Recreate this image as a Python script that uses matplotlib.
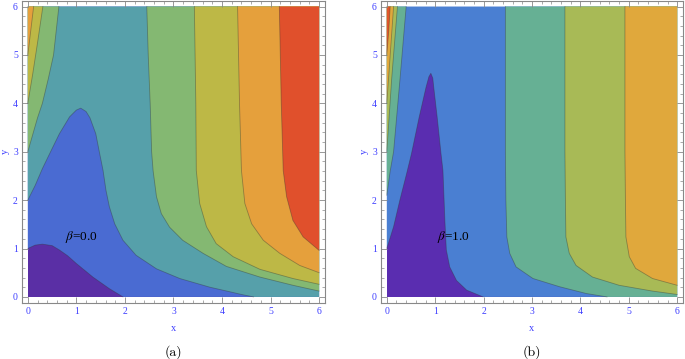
import numpy as np
import matplotlib.pyplot as plt
from matplotlib.ticker import MultipleLocator

# ================= contour boundaries =================
# panel (a): beta = 0.0   (each curve: x list, y list, high side on the left)
A1_X = [0.0, 0.15, 0.3, 0.5, 0.65, 0.82, 1.0, 1.34, 1.68, 1.96]
A1_Y = [1.0, 1.07, 1.09, 1.06, 0.97, 0.85, 0.69, 0.41, 0.17, 0.0]

A2_X = [0.0, 0.15, 0.3, 0.45, 0.65, 0.86, 1.0, 1.09, 1.2, 1.28, 1.4, 1.48,
        1.55, 1.61, 1.68, 1.79, 1.96, 2.23, 2.65, 3.13, 3.75, 4.1, 4.4, 4.65]
A2_Y = [2.0, 2.3, 2.65, 2.96, 3.37, 3.72, 3.86, 3.9, 3.83, 3.7, 3.37, 2.96,
        2.61, 2.2, 1.86, 1.51, 1.17, 0.86, 0.58, 0.38, 0.2, 0.12, 0.05, 0.0]

A3L_X = [0.0, 0.1, 0.2, 0.3, 0.42, 0.53, 0.64]
A3L_Y = [3.0, 3.35, 3.7, 4.0, 4.5, 5.0, 6.0]
A3R_X = [2.45, 2.48, 2.52, 2.55, 2.58, 2.65, 2.75, 2.92, 3.19, 3.61, 4.09, 4.78, 5.46, 6.0]
A3R_Y = [6.0, 5.0, 4.0, 3.0, 2.61, 2.07, 1.72, 1.44, 1.17, 0.9, 0.63, 0.41, 0.24, 0.12]

A4L_X = [0.0, 0.1, 0.2, 0.31]
A4L_Y = [4.0, 4.6, 5.25, 6.0]
A4R_X = [3.43, 3.46, 3.47, 3.54, 3.68, 3.88, 4.23, 4.78, 5.46, 6.0]
A4R_Y = [6.0, 4.0, 2.61, 1.93, 1.45, 1.1, 0.83, 0.57, 0.38, 0.26]

A5L_X = [0.0, 0.06, 0.12]
A5L_Y = [5.0, 5.5, 6.0]
A5R_X = [4.32, 4.36, 4.4, 4.47, 4.61, 4.85, 5.19, 5.6, 6.0]
A5R_Y = [6.0, 4.0, 2.61, 1.93, 1.51, 1.17, 0.9, 0.65, 0.5]

A6R_X = [5.18, 5.22, 5.26, 5.33, 5.46, 5.67, 6.0]
A6R_Y = [6.0, 4.0, 2.61, 2.07, 1.58, 1.24, 0.96]

# panel (b): beta = 1.0
B1_X = [0.0, 0.14, 0.27, 0.41, 0.51, 0.67, 0.81, 0.87, 0.91, 0.95, 0.97,
        1.04, 1.12, 1.16, 1.2, 1.23, 1.3, 1.44, 1.65, 1.99]
B1_Y = [1.0, 1.45, 2.0, 2.55, 2.96, 3.72, 4.33, 4.55, 4.62, 4.52, 4.33,
        3.72, 2.96, 2.61, 1.58, 0.97, 0.62, 0.34, 0.14, 0.0]

B2L_X = [0.0, 0.07, 0.14, 0.27, 0.4]
B2L_Y = [2.1, 2.6, 3.0, 4.47, 6.0]
B2R_X = [2.45, 2.45, 2.46, 2.48, 2.54, 2.67, 3.02, 3.57, 4.12, 4.55]
B2R_Y = [6.0, 3.0, 2.0, 1.24, 0.9, 0.62, 0.38, 0.21, 0.07, 0.0]

B3L_X = [0.0, 0.1, 0.22]
B3L_Y = [3.0, 4.5, 6.0]
B3R_X = [3.68, 3.68, 3.69, 3.7, 3.77, 3.91, 4.25, 4.8, 5.49, 6.0]
B3R_Y = [6.0, 3.0, 2.0, 1.24, 0.9, 0.65, 0.41, 0.24, 0.12, 0.05]

B4L_X = [0.0, 0.07, 0.14]
B4L_Y = [4.0, 5.0, 6.0]
B4R_X = [4.92, 4.92, 4.93, 4.94, 5.01, 5.14, 5.49, 6.0]
B4R_Y = [6.0, 3.0, 2.0, 1.24, 0.83, 0.59, 0.38, 0.24]

B5L_X = [0.0, 0.04, 0.07]
B5L_Y = [5.0, 5.5, 6.0]

A_COLORS = ["#5a2fa5", "#4a6bd2", "#56a0aa", "#84b872", "#bdb846", "#e5a03c", "#e0502c"]
B_COLORS = ["#5a2db0", "#4a7fd2", "#66b094", "#a8ba56", "#e0a83c", "#e0562a"]

A_LEVELS = [[(A1_X, A1_Y)], [(A2_X, A2_Y)], [(A3L_X, A3L_Y), (A3R_X, A3R_Y)],
            [(A4L_X, A4L_Y), (A4R_X, A4R_Y)], [(A5L_X, A5L_Y), (A5R_X, A5R_Y)],
            [(A6R_X, A6R_Y)]]
B_LEVELS = [[(B1_X, B1_Y)], [(B2L_X, B2L_Y), (B2R_X, B2R_Y)],
            [(B3L_X, B3L_Y), (B3R_X, B3R_Y)], [(B4L_X, B4L_Y), (B4R_X, B4R_Y)],
            [(B5L_X, B5L_Y)]]

LO, HI = 0.0, 6.0
CORNERS = [(HI, LO), (HI, HI), (LO, HI), (LO, LO)]


def perim(x, y):
    # position along the domain border, counter-clockwise from (0,0)
    if y <= LO + 1e-9:
        return (x - LO) / (HI - LO)
    if x >= HI - 1e-9:
        return 1 + (y - LO) / (HI - LO)
    if y >= HI - 1e-9:
        return 2 + (HI - x) / (HI - LO)
    return 3 + (HI - y) / (HI - LO)


def high_side(xs, ys):
    s0 = perim(xs[0], ys[0])
    s1 = perim(xs[-1], ys[-1])
    if s0 <= s1:
        s0 += 4
    px, py = list(xs), list(ys)
    k = int(np.floor(s1)) + 1
    while k < s0:
        cx, cy = CORNERS[(k - 1) % 4]
        px.append(cx)
        py.append(cy)
        k += 1
    return px, py


def draw_panel(ax, levels, colors, label, beta_xy, caption):
    ax.fill([LO, HI, HI, LO], [LO, LO, HI, HI], color=colors[0], lw=0)
    for k, curves in enumerate(levels):
        for xs, ys in curves:
            px, py = high_side(xs, ys)
            ax.fill(px, py, color=colors[k + 1], lw=0)
    for curves in levels:
        for xs, ys in curves:
            ax.plot(xs, ys, color="#333333", lw=0.6, alpha=0.4,
                    solid_joinstyle="round")

    ax.set_xlim(-0.12, 6.12)
    ax.set_ylim(-0.12, 6.12)
    ax.xaxis.set_major_locator(MultipleLocator(1))
    ax.yaxis.set_major_locator(MultipleLocator(1))
    ax.xaxis.set_minor_locator(MultipleLocator(0.2))
    ax.yaxis.set_minor_locator(MultipleLocator(0.2))
    ax.tick_params(which="both", direction="in", top=True, right=True,
                   color="#888888", labelcolor="#3d3dff", labelsize=7, pad=3)
    ax.tick_params(which="major", length=4.5, width=0.6)
    ax.tick_params(which="minor", length=2.5, width=0.5)
    for lab in ax.get_xticklabels() + ax.get_yticklabels():
        lab.set_family("Liberation Serif")
    for sp in ax.spines.values():
        sp.set_color("#888888")
        sp.set_linewidth(0.8)
    ax.set_xlabel("x", color="#3d3dff", family="Liberation Serif",
                  fontsize=7.5, labelpad=6)
    ax.set_ylabel("y", color="#3d3dff", family="Liberation Serif",
                  fontsize=7.5, labelpad=2.5)
    ax.text(beta_xy[0], beta_xy[1], label, fontsize=9.5, va="center",
            ha="left", family="Liberation Serif")
    ax.text(0.5, -0.163, caption, transform=ax.transAxes, ha="center",
            va="center", fontsize=10, family="cmr10")


plt.rcParams["mathtext.fontset"] = "stix"

fig = plt.figure(figsize=(6.85, 3.59), dpi=100)
ax_a = fig.add_axes([0.0321, 0.1568, 0.4423, 0.8412])
ax_b = fig.add_axes([0.5562, 0.1568, 0.4409, 0.8412])

draw_panel(ax_a, A_LEVELS, A_COLORS, r"$\beta$=0.0", (0.76, 1.24), "(a)")
draw_panel(ax_b, B_LEVELS, B_COLORS, r"$\beta$=1.0", (1.04, 1.24), "(b)")

fig.savefig("out.png", dpi=100)
